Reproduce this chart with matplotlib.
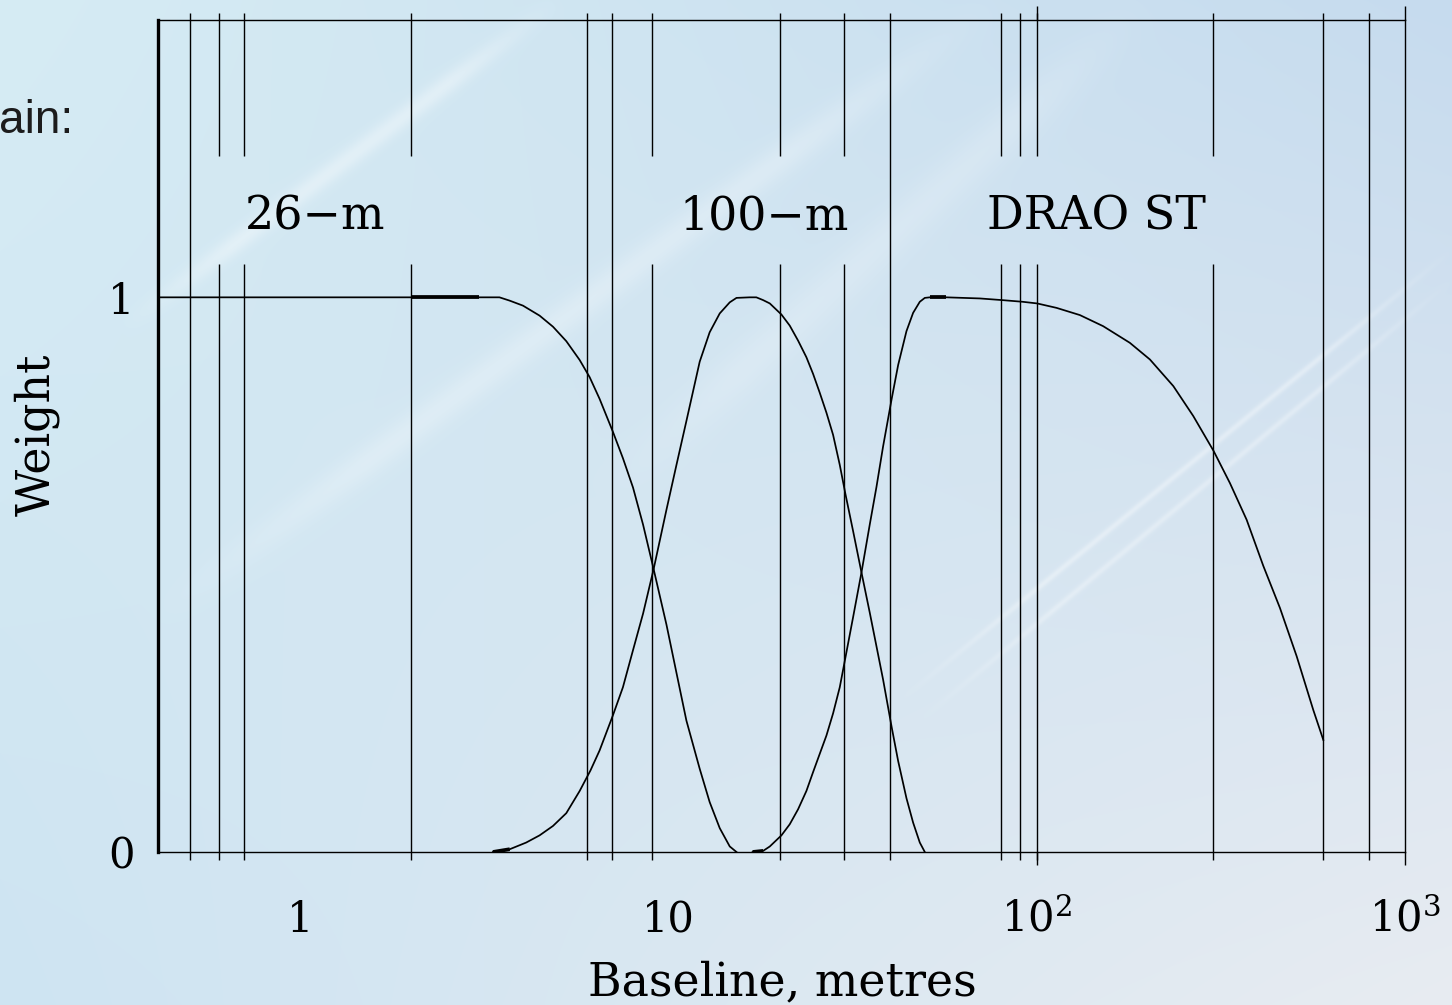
import numpy as np
import matplotlib
matplotlib.use("Agg")
import matplotlib.pyplot as plt

# ---------------- data ----------------
x_limits = (0.41, 1000.0)
y_limits = (0.0, 1.5)

# vertical marker lines (baseline values, metres)
marks_full = [0.5, 6, 7, 40, 600, 800]
marks_broken = [0.6, 0.7, 2, 9, 20, 30, 80, 90, 100, 300]
marks_major = [100, 1000]

# weighting curves
base_26m = [0.41, 2.0, 3.05, 3.33, 3.47, 3.70, 4.02, 4.46, 4.85, 5.27, 5.73, 6.10,
            6.49, 7.06, 7.51, 8.00, 8.52, 9.10, 9.86, 10.49, 11.17, 12.14, 12.92,
            13.76, 14.65, 15.28]
wt_26m = [1.0, 1.0, 1.0, 1.0, 1.0, 0.994, 0.985, 0.967, 0.947, 0.921, 0.887, 0.856,
          0.817, 0.757, 0.710, 0.657, 0.590, 0.510, 0.410, 0.324, 0.237, 0.150, 0.090,
          0.043, 0.010, 0.0]

base_100m = [3.33, 3.70, 4.10, 4.46, 4.85, 5.27, 5.73, 6.13, 6.49, 7.06, 7.51, 8.00,
             8.52, 9.10, 9.86, 10.49, 11.17, 12.14, 12.92, 13.76, 14.65, 15.28, 16.6,
             17.3, 18.05, 18.82, 20.24, 21.32, 22.46, 23.66, 24.67, 25.72, 26.82,
             27.96, 29.15, 30.21, 31.70, 33.39, 35.18, 36.67, 38.22, 40.36, 42.0,
             44.24, 46.12, 48.09, 49.62]
wt_100m = [0.0, 0.005, 0.017, 0.030, 0.047, 0.070, 0.110, 0.147, 0.183, 0.247, 0.297,
           0.364, 0.430, 0.510, 0.617, 0.697, 0.777, 0.884, 0.937, 0.971, 0.991, 0.999,
           1.0, 1.0, 0.995, 0.989, 0.969, 0.949, 0.922, 0.892, 0.862, 0.828, 0.792,
           0.752, 0.698, 0.645, 0.578, 0.504, 0.431, 0.371, 0.311, 0.224, 0.164,
           0.097, 0.053, 0.017, 0.0]

base_drao = [16.9, 18.05, 18.82, 20.24, 21.32, 22.46, 23.66, 24.67, 25.72, 26.82,
             27.96, 29.15, 30.21, 31.70, 33.39, 35.18, 36.67, 38.22, 40.36, 42.0,
             44.24, 46.12, 48.09, 49.62, 51.2, 56.8, 70.0, 80.5, 91.4, 100.2, 113.1,
             130.9, 151.4, 178.9, 202.8, 234.8, 266.0, 302.1, 334.6, 371.4, 412.1,
             457.4, 507.8, 563.5, 600.0]
wt_drao = [0.0, 0.002, 0.010, 0.030, 0.050, 0.077, 0.110, 0.144, 0.177, 0.210,
           0.250, 0.297, 0.351, 0.424, 0.504, 0.591, 0.658, 0.731, 0.818, 0.878,
           0.939, 0.972, 0.992, 0.999, 1.0, 1.0, 0.998, 0.995, 0.992, 0.989, 0.981,
           0.968, 0.948, 0.918, 0.888, 0.840, 0.786, 0.723, 0.665, 0.599, 0.516,
           0.440, 0.353, 0.256, 0.202]

# short heavier stretches seen on the curves (baseline ranges)
heavy_26m = [(2.0, 3.05)]
heavy_100m = [(3.33, 3.70)]
heavy_drao = [(16.9, 18.05), (51.2, 56.8)]

xtick_vals = [1, 10, 100, 1000]
xtick_labels = ['1', '10', r'$\mathregular{10^2}$', r'$\mathregular{10^3}$']
ytick_vals = [0, 1]
ytick_labels = ['0', '1']

curve_names = ['26\u2212m', '100\u2212m', 'DRAO ST']
name_x = [1.098, 18.2, 145.6]
name_y = 1.123

# ---------------- figure ----------------
W, H = 1452, 1005
fig = plt.figure(figsize=(W / 100, H / 100), dpi=100)

# slide background
yy, xx = np.mgrid[0:H, 0:W].astype(float)
u = (xx / (W - 1))[..., None]
v = (yy / (H - 1))[..., None]
TL = np.array([214, 236, 244]) / 255
TR = np.array([198, 219, 238]) / 255
BL = np.array([206, 228, 242]) / 255
BR = np.array([232, 236, 242]) / 255
img = (1 - u) * (1 - v) * TL + u * (1 - v) * TR + (1 - u) * v * BL + u * v * BR


def streak(x0, y0, x1, y1, width, strength):
    dx, dy = x1 - x0, y1 - y0
    L2 = dx * dx + dy * dy
    d = np.abs((xx - x0) * dy - (yy - y0) * dx) / np.sqrt(L2)
    t = ((xx - x0) * dx + (yy - y0) * dy) / L2
    fade = np.clip(np.minimum(t, 1 - t) * 4, 0, 1)
    return np.exp(-(d / width) ** 2) * fade * strength


s = (streak(120, 330, 560, 0, 10, 0.35) + streak(150, 620, 1000, 0, 16, 0.25)
     + streak(900, 700, 1452, 250, 3, 0.35) + streak(920, 720, 1452, 280, 3, 0.3)
     + streak(600, 500, 1150, 0, 22, 0.18))
s = np.clip(s, 0, 0.6)[..., None]
img = img + (1 - img) * s
bg = fig.add_axes([0, 0, 1, 1], zorder=0)
bg.imshow(img, aspect='auto', extent=[0, 1, 0, 1], interpolation='bilinear')
bg.axis('off')

fig.text(73 / W, 1 - 133 / H, 'ain:', ha='right', va='baseline',
         fontsize=33, family='Liberation Sans', color='#1c1c1c')

# main axes
ax = fig.add_axes([158 / W, 1 - 852 / H, (1405 - 158) / W, 832 / H], zorder=1)
ax.set_facecolor('none')
ax.set_xscale('log')
ax.set_xlim(*x_limits)
ax.set_ylim(*y_limits)

serif = 'DejaVu Serif'
lw = 1.0
clw = 1.25

for sp in ax.spines.values():
    sp.set_linewidth(lw)
    sp.set_color('black')
ax.spines['left'].set_linewidth(2.4)

# marker lines
ax.vlines(marks_full, -0.0144, 1.5135, colors='black', lw=lw, clip_on=False)
ax.vlines(marks_broken, -0.0144, 1.0596, colors='black', lw=lw, clip_on=False)
ax.vlines(marks_broken, 1.2545, 1.5135, colors='black', lw=lw, clip_on=False)
ax.vlines(marks_major, -0.0235, 0.0, colors='black', lw=lw, clip_on=False)
ax.vlines(marks_major, 1.5, 1.525, colors='black', lw=lw, clip_on=False)

# curves
for bx, wy, heavy_list in [(base_26m, wt_26m, heavy_26m),
                           (base_100m, wt_100m, heavy_100m),
                           (base_drao, wt_drao, heavy_drao)]:
    ax.plot(bx, wy, color='black', lw=clw, solid_joinstyle='round')
    bxa = np.asarray(bx)
    wya = np.asarray(wy)
    for lo, hi in heavy_list:
        m = (bxa >= lo) & (bxa <= hi)
        ax.plot(bxa[m], wya[m], color='black', lw=2.7, solid_capstyle='butt')

# curve names
for name, nx in zip(curve_names, name_x):
    ax.text(nx, name_y, name, ha='center', va='baseline', fontsize=33,
            family=serif, color='black')

# ticks
ax.set_xticks(xtick_vals)
ax.set_xticklabels(xtick_labels)
ax.xaxis.set_minor_locator(matplotlib.ticker.NullLocator())
ax.tick_params(axis='x', which='both', length=0, pad=57.5, labelsize=30)
for lab in ax.get_xticklabels():
    lab.set_family(serif)
    lab.set_va('baseline')
ax.set_yticks(ytick_vals)
ax.set_yticklabels(ytick_labels)
ax.tick_params(axis='y', which='both', length=0, pad=17, labelsize=30)
for lab in ax.get_yticklabels():
    lab.set_family(serif)

fig.text(782 / W, 1 - 995 / H, 'Baseline, metres', ha='center', va='baseline',
         fontsize=33, family=serif)
fig.text(37 / W, 1 - 435 / H, 'Weight', ha='center', va='center', rotation=90,
         fontsize=33, family=serif)

fig.savefig('out.png', dpi=100)
